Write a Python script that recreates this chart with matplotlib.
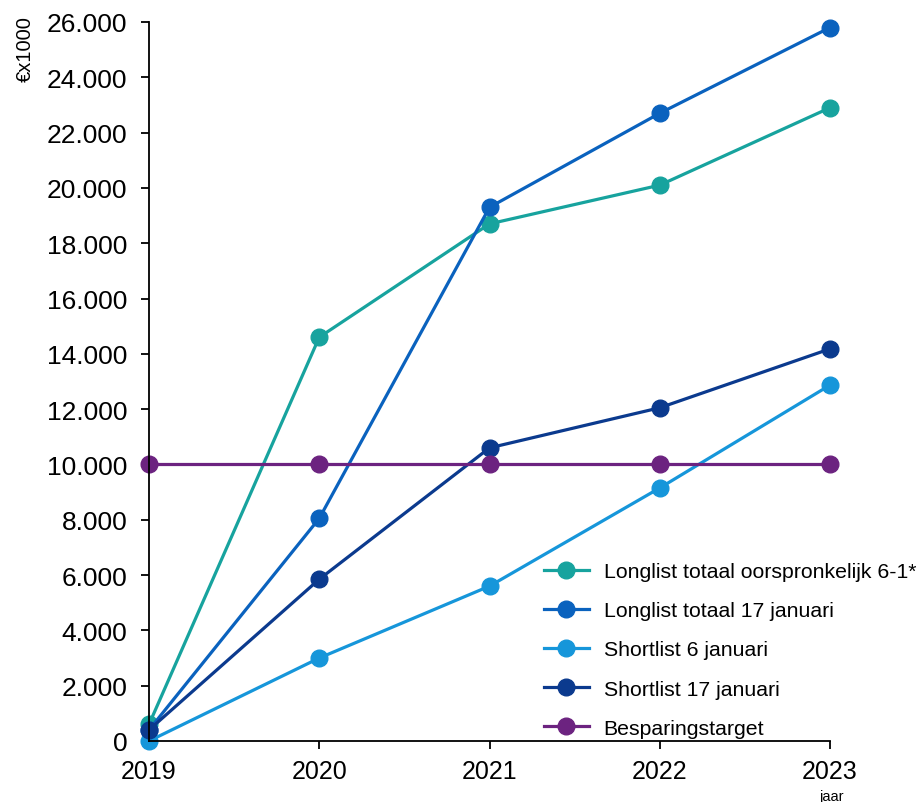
import matplotlib
matplotlib.use("Agg")
import matplotlib.pyplot as plt
from matplotlib.ticker import FuncFormatter

plt.rcParams['font.family'] = ['Liberation Sans', 'DejaVu Sans']

years = [2019, 2020, 2021, 2022, 2023]

longlist_orig = [600, 14600, 18700, 20100, 22900]
longlist_17jan = [400, 8050, 19300, 22700, 25800]
shortlist_6jan = [0, 3000, 5600, 9150, 12870]
shortlist_17jan = [400, 5850, 10600, 12050, 14180]
target = [10000, 10000, 10000, 10000, 10000]

series = [
    ("Longlist totaal oorspronkelijk 6-1*", longlist_orig, "#17A39E"),
    ("Longlist totaal 17 januari", longlist_17jan, "#0A62BE"),
    ("Shortlist 6 januari", shortlist_6jan, "#1696DA"),
    ("Shortlist 17 januari", shortlist_17jan, "#0B3A8E"),
    ("Besparingstarget", target, "#6C2380"),
]

fig = plt.figure(figsize=(9.18, 8.03), dpi=100)
ax = fig.add_axes([149 / 918, 1 - 742 / 803, (830 - 149) / 918, (742 - 23) / 803])

for label, vals, color in series:
    ax.plot(years, vals, color=color, lw=2.3, marker='o', markersize=12,
            label=label, clip_on=False)

ax.set_xlim(2019, 2023)
ax.set_ylim(0, 26000)
ax.set_xticks(years)
ax.set_yticks(range(0, 26001, 2000))
ax.yaxis.set_major_formatter(FuncFormatter(lambda v, p: f"{int(v):,}".replace(",", ".")))

for s in ("top", "right"):
    ax.spines[s].set_visible(False)
for s in ("left", "bottom"):
    ax.spines[s].set_linewidth(1.3)
ax.tick_params(axis='both', direction='out', length=6, width=1.3)
ax.tick_params(axis='x', pad=7, labelsize=18)
ax.tick_params(axis='y', pad=9.5, labelsize=19)

fig.text(25 / 918, 1 - 16 / 803, "€x1000", rotation=90, ha='center', va='top', fontsize=14.5)
fig.text(832 / 918, 1 - 797 / 803, "jaar", ha='center', va='center', fontsize=10.5)

leg = ax.legend(loc='upper left', bbox_to_anchor=(544 / 918, 1 - 563 / 803),
                bbox_transform=fig.transFigure, frameon=False, fontsize=15.3,
                handlelength=2.1, handletextpad=0.7, labelspacing=0.95,
                borderaxespad=0, borderpad=0)

fig.savefig("out.png", dpi=100)
